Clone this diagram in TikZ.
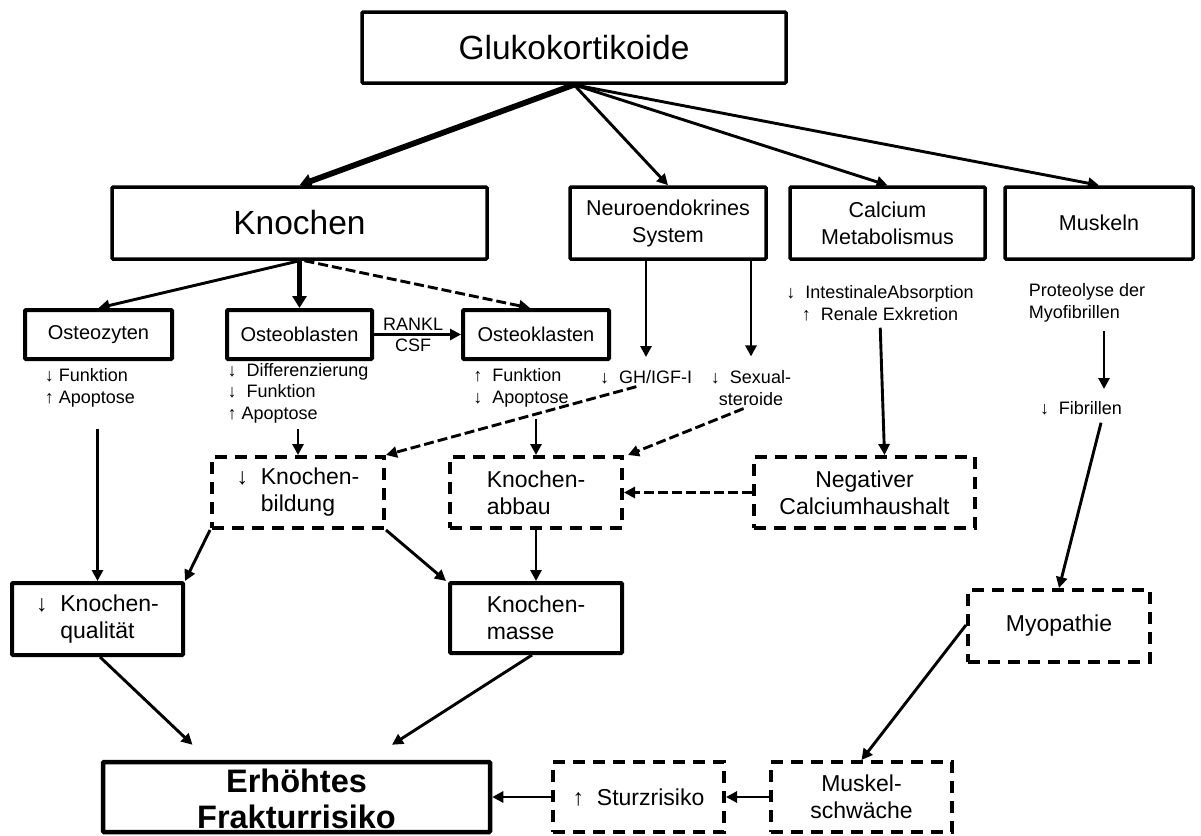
\documentclass[tikz,border=0pt]{standalone}
\usepackage{fontspec}
\setmainfont{Liberation Sans}
\usetikzlibrary{arrows.meta}
\newcommand\fszA{\fontsize{33.5}{40}\selectfont}
\newcommand\fszB{\fontsize{21.5}{27}\selectfont}
\newcommand\fszC{\fontsize{20}{24}\selectfont}
\newcommand\fszD{\fontsize{18}{21.5}\selectfont}
\newcommand\fszE{\fontsize{23}{27}\selectfont}
\newcommand\fszF{\fontsize{32.5}{36}\selectfont\bfseries}
\begin{document}
\begin{tikzpicture}[x=1pt,y=-1pt,
  box/.style={draw, line width=3.5pt, rounded corners=1pt, inner sep=0pt, align=center},
  sbox/.style={box, line width=4pt, font=\fszC, minimum height=49pt},
  dbox/.style={draw, line width=4pt, dash pattern=on 12pt off 8pt, inner sep=0pt, align=center, font=\fszE},
  mbox/.style={box, line width=4pt, font=\fszE},
  tnode/.style={inner sep=0pt, font=\fszD, align=left},
  arr/.style={line width=2.9pt, -{Triangle[length=11pt,width=11pt]}},
  tarr/.style={line width=5.8pt, -{Triangle[length=12pt,width=14pt]}},
  darr/.style={arr, dash pattern=on 10pt off 4pt},
  lbl/.style={inner sep=2.5pt, font=\fszD}]
\fill[white] (0,0) rectangle (1201,835);
\useasboundingbox (0,0) rectangle (1201,835);

% top row
\node[box, minimum width=424pt, minimum height=71pt, font=\fszA] (glu) at (574,47.5) {Glukokortikoide};
\node[box, minimum width=375pt, minimum height=72pt, font=\fszA] (kno) at (299.5,223) {Knochen};
\node[box, minimum width=196pt, minimum height=72pt, font=\fszB] (neu) at (668,223) {Neuroendokrines\\System};
\node[box, minimum width=195pt, minimum height=72pt, font=\fszB] (cal) at (887.5,223) {Calcium\\Metabolismus};
\node[box, minimum width=188pt, minimum height=72pt, font=\fszB] (mus) at (1099,223) {Muskeln};

% cell boxes
\node[sbox, minimum width=147pt] (ozy) at (98.5,334.5) {Osteozyten};
\node[sbox, minimum width=145pt] (obl) at (299.5,334.5) {Osteoblasten};
\node[sbox, minimum width=146pt] (okl) at (536,334.5) {Osteoklasten};

% texts
\node[tnode] (ozt) at (90,388) {↓ Funktion\\↑ Apoptose};
\node[tnode] (obt) at (298,393) {↓\ \ Differenzierung\\↓\ \ Funktion\\↑ Apoptose};
\node[tnode] (okt) at (521,388) {↑\ \ Funktion\\↓\ \ Apoptose};
\node[tnode] (ght) at (646,377) {↓\ \ GH/IGF-I};
\node[tnode, align=center] (sxt) at (751,388) {↓\ \ Sexual-\\steroide};
\node[tnode, align=center] (cat) at (880,303) {↓\ \ IntestinaleAbsorption\\↑\ \ Renale Exkretion};
\node[tnode] (prt) at (1087,303) {Proteolyse der\\Myofibrillen};
\node[tnode] (fit) at (1081,408) {↓\ \ Fibrillen};

% middle boxes
\node[dbox, align=left, minimum width=172pt, minimum height=71pt] (kbi) at (298,492.5) {↓\ \ Knochen-\\\hphantom{↓\ \ }bildung};
\node[dbox, align=left, minimum width=172pt, minimum height=71pt] (kab) at (536,492.5) {Knochen-\\abbau};
\node[dbox, minimum width=221pt, minimum height=71pt] (neg) at (864.5,492.5) {Negativer\\Calciumhaushalt};
\node[mbox, align=left, minimum width=171pt, minimum height=72pt] (kqu) at (97.5,619) {↓\ \ Knochen-\\\hphantom{↓\ \ }qualität};
\node[mbox, align=left, minimum width=172pt, minimum height=70pt] (kma) at (536,618) {Knochen-\\masse};
\node[dbox, minimum width=182pt, minimum height=72pt] (myo) at (1059,626) {Myopathie};

% bottom row
\node[box, line width=4.5pt, minimum width=387pt, minimum height=70pt] (fra) at (296.5,797) {};
\node[inner sep=0pt, align=center, font=\fszF] (frt) at (296.5,799) {Erhöhtes\\Frakturrisiko};
\node[dbox, minimum width=171pt, minimum height=70pt] (stu) at (638.5,797) {↑\ \ Sturzrisiko};
\node[dbox, minimum width=181pt, minimum height=70pt] (msw) at (861.5,797) {Muskel-\\schwäche};

% connectors from top
\draw[tarr] (glu.south) -- (kno.north);
\draw[arr] (glu.south) -- (neu.north);
\draw[arr] (glu.south) -- (cal.north);
\draw[arr] (glu.south) -- (mus.north);

\draw[arr] (kno.south) -- (ozy.north);
\draw[tarr] (kno.south) -- (obl.north);
\draw[darr] ([xshift=5pt]kno.south) -- ([xshift=-6pt]okl.north);
\draw[arr] (obl.east) -- (okl.west)
  node[lbl, pos=.45, above] (rankl) {RANKL}
  node[lbl, pos=.45, below] (csf) {CSF};

\draw[arr, shorten >=13pt] (neu.south -| ght.north) -- (ght.north);
\draw[arr, shorten >=14pt] (neu.south -| sxt.north) -- (sxt.north);
\draw[arr, shorten <=7pt] (cat.south) -- ([xshift=20pt]neg.north);
\draw[arr, shorten <=9pt, shorten >=12pt] ([xshift=17pt]prt.south) -- ([xshift=23pt]fit.north);
\draw[arr, shorten <=8pt] ([xshift=22pt]fit.south) -- (myo.north);

\draw[arr, shorten <=22pt] (ozt.south -| kqu.north) -- (kqu.north);
\draw[arr, shorten <=6pt] (obt.south -| kbi.north) -- (kbi.north);
\draw[arr, shorten <=12pt] (okt.south -| kab.north) -- (kab.north);
\draw[darr, shorten <=10pt] (ght.south) -- (kbi.north east);
\draw[darr, shorten <=8pt] (sxt.south) -- ([xshift=4pt]kab.north east);
\draw[darr] (neg.west) -- (kab.east);

\draw[arr] (kbi.south west) -- (kqu.north east);
\draw[arr] (kbi.south east) -- ([xshift=-2pt]kma.north west);
\draw[arr] (kab.south) -- (kma.north);

\draw[arr] ([xshift=2.5pt]kqu.south) -- ([xshift=-104pt,yshift=15pt]fra.north);
\draw[arr] ([xshift=-4pt]kma.south) -- ([xshift=95.5pt,yshift=15pt]fra.north);
\draw[arr] ([yshift=1pt]myo.west) -- (msw.north);
\draw[arr] (msw.west) -- (stu.east);
\draw[arr] (stu.west) -- (fra.east);
\end{tikzpicture}
\end{document}
